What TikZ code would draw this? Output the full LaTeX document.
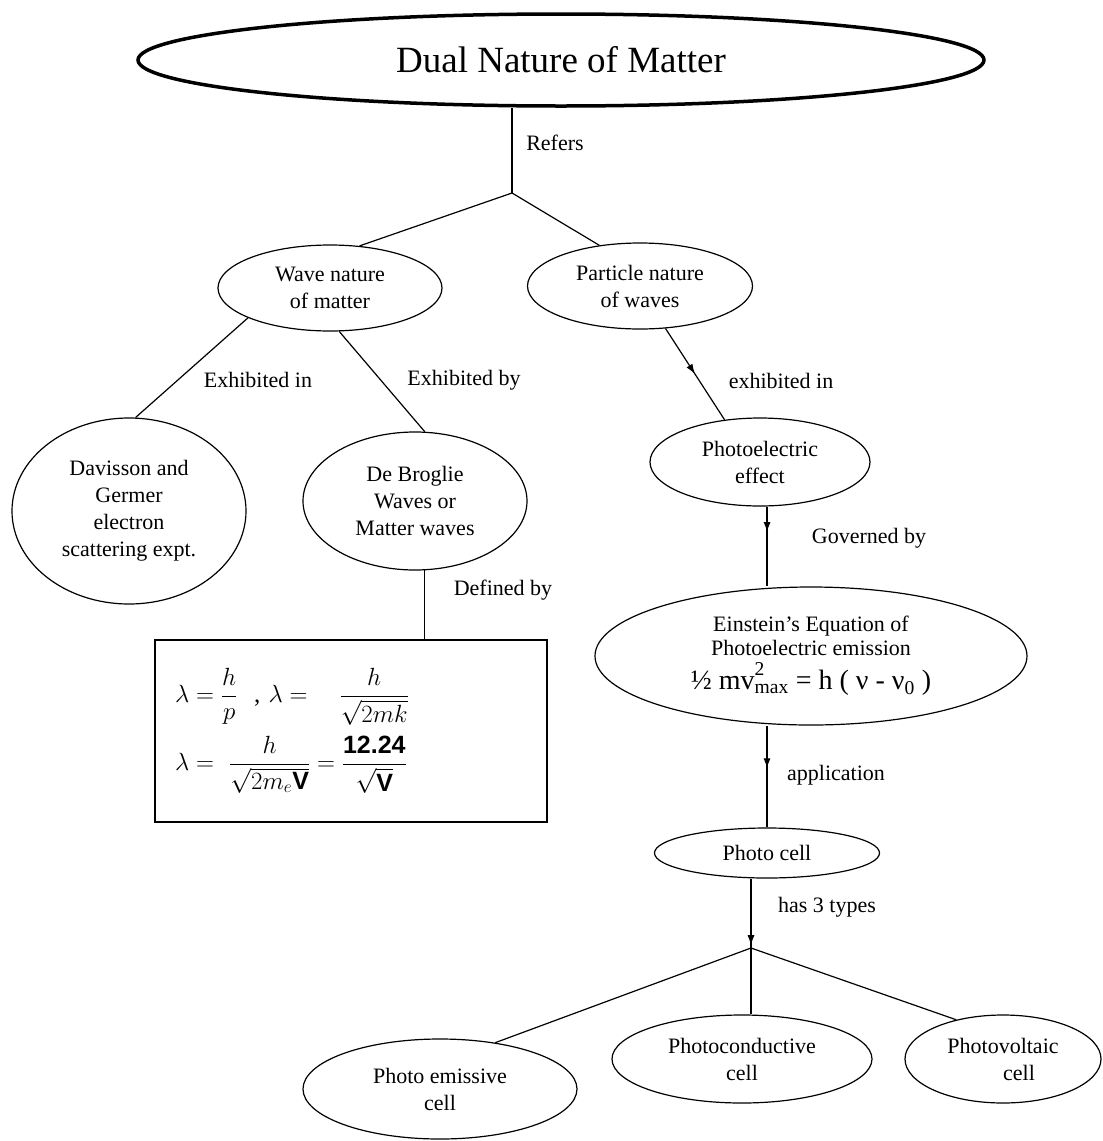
\documentclass[tikz,border=0pt]{standalone}
\usepackage{fontspec}
\setmainfont{Liberation Serif}
\setsansfont{Liberation Sans}
\usepackage{amsmath}
\usetikzlibrary{shapes.geometric,arrows.meta,decorations.markings}

\tikzset{
  bub/.style={ellipse,draw,line width=1.2pt,inner sep=1pt,align=center},
  link/.style={line width=1.2pt},
  midarrow/.style={postaction={decorate},decoration={markings,mark=at position #1 with {\arrow{Latex[length=10pt,width=7pt]}}}}
}

\begin{document}
\begin{tikzpicture}[x=1pt,y=-1pt,font=\fontsize{22}{27}\selectfont]
\useasboundingbox (0,0) rectangle (1103,1141);
\node[bub,line width=3.5pt,minimum width=846pt,minimum height=92pt,font=\fontsize{37}{40}\selectfont] (top) at (561,60) {Dual Nature of Matter};
\node[bub,minimum width=224pt,minimum height=86pt] (wave) at (330,288) {Wave nature\\of matter};
\node[bub,minimum width=225pt,minimum height=86pt] (part) at (640,286) {Particle nature\\of waves};
\node[bub,minimum width=234pt,minimum height=186pt] (dav) at (129,511) {Davisson and\\Germer\\electron\\scattering expt.};
\node[bub,minimum width=224pt,minimum height=138pt] (deb) at (415,501) {De Broglie\\Waves or\\Matter waves};
\node[draw,line width=1.2pt,minimum width=392pt,minimum height=182pt,text width=352pt,align=left,font=\fontsize{25}{34}\selectfont] (form) at (351,731)
  {$\lambda=\dfrac{h}{p}$\ \ ,\ $\lambda=\quad\dfrac{h}{\sqrt{2mk}}$\\[10pt]
   $\lambda=\ \dfrac{h}{\sqrt{2m_e\textsf{\textbf{V}}}}=\dfrac{\textsf{\textbf{12.24}}\rule[-3pt]{0pt}{3pt}}{\sqrt{\textsf{\textbf{V}}}}$};
\node[bub,minimum width=220pt,minimum height=88pt] (photo) at (760,462) {Photoelectric\\effect};
\node[bub,minimum width=432pt,minimum height=138pt,font=\fontsize{22}{24}\selectfont] (ein) at (811,656)
  {Einstein’s Equation of\\Photoelectric emission\\[6pt]{\fontsize{28}{30}\selectfont ½ mv\rlap{\raisebox{5pt}{\textsuperscript{2}}}\textsubscript{max} = h ( ν - ν\textsubscript{0} )}};
\node[bub,minimum width=225pt,minimum height=50pt] (cell) at (767,853) {Photo cell};
\node[bub,minimum width=274pt,minimum height=100pt] (emis) at (440,1089) {Photo emissive\\cell};
\node[bub,minimum width=260pt,minimum height=88pt] (cond) at (742,1059) {Photoconductive\\cell};
\node[bub,minimum width=196pt,minimum height=88pt] (volt) at (1003,1059) {Photovoltaic\\\hspace*{32pt}cell};
\coordinate (j1) at (512,193);
\coordinate (j2) at (751,948);
\draw[link] (j1 |- top.south) -- (j1);
\draw[link] (j1) -- (wave.55);
\draw[link] (j1) -- (part.135);
\draw[link] (wave.200) -- (dav.86);
\draw[link] (wave.282) -- (deb.82);
\draw[link] (deb.278) -- (deb.278 |- form.north);
\draw[link,midarrow=0.5] (part.301) -- (photo.130);
\draw[link,midarrow=0.32] (photo.279) -- (photo.279 |- ein.north);
\draw[link,midarrow=0.42] (cell.north |- ein.south) -- (cell.north);
\draw[link,midarrow=0.96] (j2 |- cell.south) -- (j2);
\draw[link] (j2) -- (emis.40);
\draw[link] (j2) -- (j2 |- cond.north);
\draw[link] (j2) -- (volt.140);
\node (refers) at (555,143) {Refers};
\node (exin) at (258,380) {Exhibited in};
\node (exby) at (464,380) {Exhibited by};
\node (defby) at (503,590) {Defined by};
\node (exin2) at (781,381) {exhibited in};
\node (gov) at (869,538) {Governed by};
\node (appl) at (836,775) {application};
\node (types) at (827,907) {has 3 types};
\end{tikzpicture}
\end{document}
